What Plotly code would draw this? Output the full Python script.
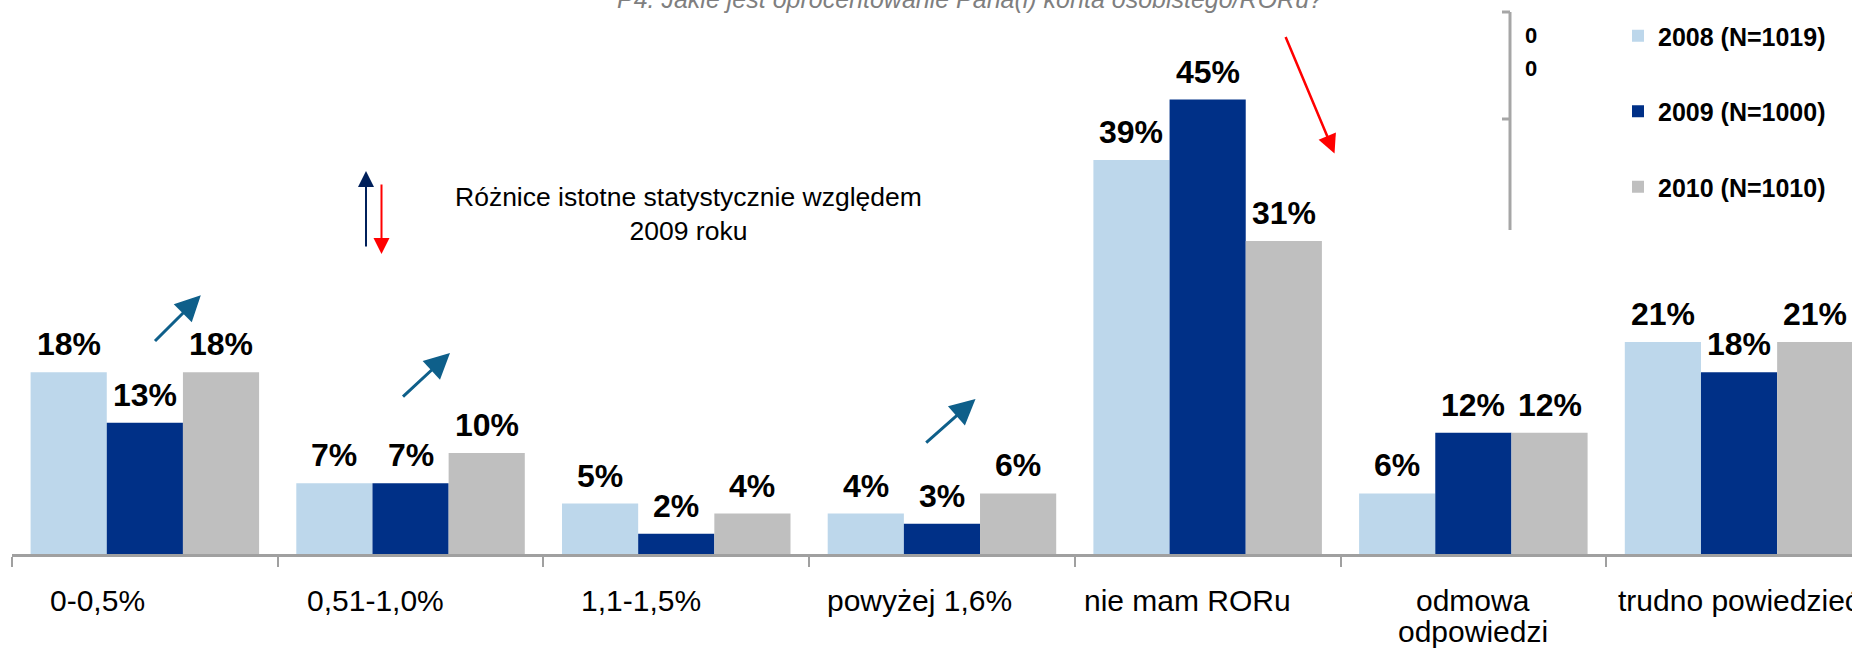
import plotly.graph_objects as go

categories = ["0-0,5%", "0,51-1,0%", "1,1-1,5%", "powyżej 1,6%", "nie mam RORu",
              "odmowa<br>odpowiedzi", "trudno powiedzieć"]
series_names = ["2008 (N=1019)", "2009 (N=1000)", "2010 (N=1010)"]
values_2008 = [18, 7, 5, 4, 39, 6, 21]
values_2009 = [13, 7, 2, 3, 45, 12, 18]
values_2010 = [18, 10, 4, 6, 31, 12, 21]
colors = ["#BDD7EB", "#003087", "#BFBFBF"]

# horizontal offsets (px) of the category label texts, as placed in the original
LABEL_DX = [-47, -35, -35, -22, -20, 0, 0]

W, H = 1852, 650
ML, MR, MT, MB = 12, 0, 49, 96
PW = W - ML - MR
PH = H - MT - MB
CAT_W = 265.7
BARGAP = 0.14


def px(xp):
    return (xp - ML) / PW


def py(yp):
    return (H - MB - yp) / PH


FONT = "Liberation Sans, Arial, sans-serif"

all_values = [values_2008, values_2009, values_2010]
fig = go.Figure()
for i, (name, vals) in enumerate(zip(series_names, all_values)):
    fig.add_trace(go.Bar(
        x=categories, y=vals, name=name,
        marker=dict(color=colors[i], line=dict(width=0)),
        legendgroup=f"g{i}", hoverinfo="x+y+name",
    ))

annotations = []

# value labels above the bars
slot = (1 - BARGAP) / len(all_values)
for i, vals in enumerate(all_values):
    for j, v in enumerate(vals):
        annotations.append(dict(
            xref="x", yref="y", x=j + (i - 1) * slot, y=v,
            text=f"{v}%", showarrow=False, xanchor="center", yanchor="bottom", yshift=8,
            font=dict(family=FONT, size=32, color="black", weight="bold"),
        ))

# category labels
for j, cat in enumerate(categories):
    for k, line in enumerate(cat.split("<br>")):
        annotations.append(dict(
            xref="x", yref="paper", x=j, y=py(600 + 31 * k), xshift=LABEL_DX[j],
            text=line, showarrow=False, xanchor="center", yanchor="middle",
            font=dict(family=FONT, size=30, color="black"),
        ))

# Title (cut off at the top in the reference)
annotations.append(dict(
    text="P4. Jakie jest oprocentowanie Pana(i) konta osobistego/RORu?",
    xref="paper", yref="paper", x=px(970), y=py(-1), xanchor="center", yanchor="middle",
    showarrow=False, font=dict(family=FONT, size=25, color="#7F7F7F", style="italic"),
))

# Explanation text
annotations.append(dict(
    text="Różnice istotne statystycznie względem<br>2009 roku",
    xref="paper", yref="paper", x=px(688), y=py(214), xanchor="center", yanchor="middle",
    showarrow=False, align="center", font=dict(family=FONT, size=26.5, color="black"),
))

# "0" texts
for yy in (36, 68):
    annotations.append(dict(
        text="0", xref="paper", yref="paper", x=px(1531), y=py(yy),
        xanchor="center", yanchor="middle", showarrow=False,
        font=dict(family=FONT, size=22, color="black", weight="bold"),
    ))


def arrow(tail, head, color, width, size):
    return dict(
        xref="paper", yref="paper", x=px(head[0]), y=py(head[1]),
        axref="pixel", ayref="pixel", ax=tail[0] - head[0], ay=tail[1] - head[1],
        showarrow=True, arrowhead=2, arrowsize=size, arrowwidth=width,
        arrowcolor=color, text="", standoff=0, startstandoff=0,
    )


teal = "#0E5F8A"
annotations += [
    arrow((366, 248), (366, 171), "#00205B", 2, 1.6),
    arrow((381.5, 183), (381.5, 254), "#FF0000", 2, 1.6),
    arrow((153.5, 342.5), (200.8, 295.3), teal, 3, 1.7),
    arrow((401.5, 398), (450, 353), teal, 3, 1.7),
    arrow((924.7, 444), (975.5, 399), teal, 3, 1.7),
    arrow((1285, 35.4), (1334.5, 153.5), "#FF0000", 2.5, 1.5),
]

shape_line = dict(color="#A6A6A6", width=3)
shapes = [
    dict(type="line", xref="paper", yref="paper", x0=px(1510), x1=px(1510), y0=py(12), y1=py(230), line=shape_line),
    dict(type="line", xref="paper", yref="paper", x0=px(1502), x1=px(1510), y0=py(12), y1=py(12), line=shape_line),
    dict(type="line", xref="paper", yref="paper", x0=px(1502), x1=px(1510), y0=py(119), y1=py(119), line=shape_line),
]

fig.update_layout(
    width=W, height=H,
    margin=dict(l=ML, r=MR, t=MT, b=MB, pad=0),
    paper_bgcolor="white", plot_bgcolor="white",
    barmode="group", bargap=BARGAP, bargroupgap=0,
    font=dict(family=FONT, color="black"),
    showlegend=True,
    legend=dict(
        x=px(1618), y=py(13), xanchor="left", yanchor="top",
        font=dict(family=FONT, size=25, color="black", weight="bold"),
        tracegroupgap=40, bgcolor="rgba(0,0,0,0)", traceorder="grouped",
    ),
    annotations=annotations,
    shapes=shapes,
)
fig.update_xaxes(
    range=[-0.5, -0.5 + PW / CAT_W],
    showline=True, linecolor="#A0A0A0", linewidth=3,
    ticks="outside", tickson="boundaries", ticklen=10, tickwidth=2, tickcolor="#A0A0A0",
    showticklabels=False, automargin=False,
    showgrid=False, zeroline=False, fixedrange=True,
)
fig.update_yaxes(range=[0, 50], visible=False, showgrid=False, zeroline=False, fixedrange=True)

fig.write_html(
    "out.html",
    config={"displayModeBar": False},
    post_script="document.body.style.margin='0';document.body.style.overflow='hidden';",
)
